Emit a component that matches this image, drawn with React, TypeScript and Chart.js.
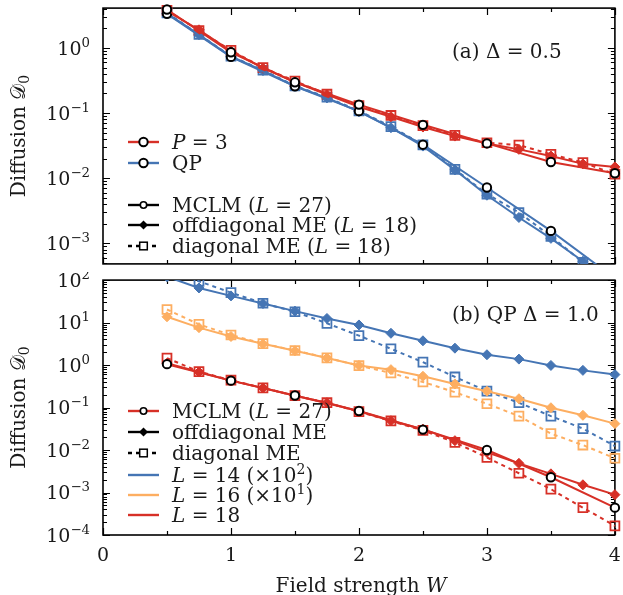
import React, { useEffect, useRef } from "react";
import { Chart, registerables } from "chart.js";
Chart.register(...registerables);

// ---------- data ----------
const W_QUARTER = [0.5, 0.75, 1.0, 1.25, 1.5, 1.75, 2.0, 2.25, 2.5, 2.75, 3.0, 3.25, 3.5, 3.75, 4.0];
const W_HALF = [0.5, 1.0, 1.5, 2.0, 2.5, 3.0, 3.5, 4.0];

// panel (a) Delta = 0.5
const p3MCLM = [3.9, 0.86, 0.297, 0.135, 0.066, 0.0342, 0.0177, 0.0119];
const qpMCLM = [3.35, 0.73, 0.258, 0.107, 0.0327, 0.00718, 0.00155, 0.00029];
const p3Off = [3.7, 1.9, 0.9, 0.49, 0.3, 0.193, 0.125, 0.088, 0.061, 0.0443, 0.034, 0.0277, 0.0219, 0.0166, 0.0149];
const p3Diag = [3.8, 1.85, 0.92, 0.5, 0.31, 0.195, 0.13, 0.092, 0.064, 0.0454, 0.035, 0.0323, 0.0233, 0.0174, 0.0115];
const qpOff = [3.4, 1.6, 0.74, 0.449, 0.258, 0.171, 0.105, 0.0596, 0.0311, 0.0134, 0.00547, 0.00249, 0.00119, 0.00053, 0.00024];
const qpDiag = [3.45, 1.62, 0.75, 0.455, 0.262, 0.175, 0.108, 0.062, 0.0325, 0.0137, 0.0057, 0.00297, 0.00128, 0.00051, 0.00022];

// panel (b) QP Delta = 1.0
const mclm18 = [1.05, 0.43, 0.192, 0.083, 0.0303, 0.01, 0.00229, 0.00044];
const off18 = [1.1, 0.686, 0.43, 0.29, 0.19, 0.13, 0.082, 0.049, 0.031, 0.0166, 0.0088, 0.00486, 0.00275, 0.00152, 0.00089];
const diag18 = [1.46, 0.7, 0.44, 0.29, 0.19, 0.13, 0.08, 0.0484, 0.029, 0.0151, 0.0067, 0.00284, 0.0012, 0.00044, 0.000164];
const off16 = [13.7, 7.6, 4.7, 3.16, 2.17, 1.46, 0.98, 0.78, 0.545, 0.36, 0.243, 0.161, 0.099, 0.0657, 0.0418];
const diag16 = [20.3, 9.1, 5.1, 3.2, 2.2, 1.48, 0.97, 0.65, 0.4, 0.23, 0.123, 0.063, 0.0244, 0.0131, 0.0064];
const off14 = [120, 65.3, 42.5, 28.1, 18.6, 12.5, 8.8, 5.6, 3.72, 2.5, 1.75, 1.38, 0.98, 0.75, 0.597];
const diag14 = [170, 93.8, 50.8, 28.5, 18, 9.6, 4.94, 2.42, 1.17, 0.525, 0.243, 0.13, 0.063, 0.032, 0.0124];

// ticks
const X_TICKS = [0, 1, 2, 3, 4];
const TOP_EXPONENTS = [0, -1, -2, -3];
const BOT_EXPONENTS = [2, 1, 0, -1, -2, -3, -4];

// ---------- style ----------
const RED = "#d73027";
const BLUE = "#4575b4";
const ORANGE = "#fdae61";
const INK = "#1a1a1a";
const FONT = '"DejaVu Serif"';
const FS = 20;
const TICK_FS = 19;

type Seg = { t: string; it?: boolean; sup?: boolean; sub?: boolean };

function segFont(s: Seg, size: number) {
  const sz = s.sup || s.sub ? size * 0.7 : size;
  return `${s.it ? "italic " : ""}${sz}px ${FONT}`;
}
function richWidth(ctx: CanvasRenderingContext2D, segs: Seg[], size: number) {
  let w = 0;
  for (const s of segs) {
    ctx.font = segFont(s, size);
    w += ctx.measureText(s.t).width;
  }
  return w;
}
// y = vertical centre of capital letters
function drawRich(ctx: CanvasRenderingContext2D, segs: Seg[], x: number, y: number, size: number, align: "left" | "right" | "center") {
  const w = richWidth(ctx, segs, size);
  let cx = align === "left" ? x : align === "right" ? x - w : x - w / 2;
  const base = y + size * 0.36;
  ctx.textAlign = "left";
  ctx.textBaseline = "alphabetic";
  ctx.fillStyle = INK;
  for (const s of segs) {
    ctx.font = segFont(s, size);
    let by = base;
    if (s.sup) by = base - size * 0.42;
    if (s.sub) by = base + size * 0.2;
    ctx.fillText(s.t, cx, by);
    cx += ctx.measureText(s.t).width;
  }
}

function pts(xs: number[], ys: number[]) {
  return xs.map((x, i) => ({ x, y: ys[i] }));
}

type Kind = "mclm" | "off" | "diag";
function ds(xs: number[], ys: number[], color: string, kind: Kind, clip: any) {
  const base: any = {
    data: pts(xs, ys),
    borderColor: color,
    borderWidth: 2,
    tension: 0,
    clip,
  };
  if (kind === "mclm") {
    return { ...base, pointStyle: "circle", pointRadius: 4.2, pointBorderColor: "#000", pointBackgroundColor: "#fff", pointBorderWidth: 2 };
  }
  if (kind === "off") {
    return { ...base, pointStyle: "rectRot", pointRadius: 5, pointBorderColor: color, pointBackgroundColor: color, pointBorderWidth: 1 };
  }
  return { ...base, borderDash: [4, 4], pointStyle: "rect", pointRadius: 6.3, pointBorderColor: color, pointBackgroundColor: "rgba(0,0,0,0)", pointBorderWidth: 1.8 };
}

function drawMarker(ctx: CanvasRenderingContext2D, kind: Kind, x: number, y: number, color: string, small: boolean) {
  ctx.save();
  ctx.setLineDash([]);
  if (kind === "mclm") {
    ctx.beginPath();
    ctx.arc(x, y, small ? 3.2 : 4.2, 0, Math.PI * 2);
    ctx.fillStyle = "#fff";
    ctx.fill();
    ctx.lineWidth = small ? 1.6 : 2;
    ctx.strokeStyle = "#000";
    ctx.stroke();
  } else if (kind === "off") {
    const r = small ? 4.5 : 5;
    ctx.beginPath();
    ctx.moveTo(x, y - r);
    ctx.lineTo(x + r, y);
    ctx.lineTo(x, y + r);
    ctx.lineTo(x - r, y);
    ctx.closePath();
    ctx.fillStyle = color;
    ctx.fill();
  } else {
    const h = small ? 3.8 : 4.5;
    ctx.fillStyle = "#fff";
    ctx.fillRect(x - h, y - h, 2 * h, 2 * h);
    ctx.lineWidth = 1.5;
    ctx.strokeStyle = color;
    ctx.strokeRect(x - h, y - h, 2 * h, 2 * h);
  }
  ctx.restore();
}

type LegendRow = { y: number; color: string; line: "solid" | "dash" | "none"; marker: Kind | null; small?: boolean; label: Seg[] };
function drawLegend(ctx: CanvasRenderingContext2D, rows: LegendRow[]) {
  for (const r of rows) {
    ctx.save();
    ctx.strokeStyle = r.color;
    ctx.lineWidth = 2.4;
    if (r.line === "dash") ctx.setLineDash([4, 4]);
    ctx.beginPath();
    ctx.moveTo(128, r.y);
    ctx.lineTo(159, r.y);
    ctx.stroke();
    ctx.restore();
    if (r.marker) drawMarker(ctx, r.marker, 143.5, r.y, r.color, !!r.small);
    drawRich(ctx, r.label, 172, r.y, FS, "left");
  }
}

function framePlugin(id: string) {
  return {
    id,
    beforeDatasetsDraw(chart: any) {
      const { ctx, chartArea: a, scales } = chart;
      const ys = scales.y;
      const xs = scales.x;
      ctx.save();
      ctx.strokeStyle = "#000";
      ctx.lineWidth = 1.2;
      for (let v = 0; v <= 4.0001; v += 0.5) {
        const px = Math.round(xs.getPixelForValue(v)) + 0.5;
        const len = Math.abs(v - Math.round(v)) < 1e-6 ? 7 : 4;
        ctx.beginPath();
        ctx.moveTo(px, a.bottom);
        ctx.lineTo(px, a.bottom - len);
        ctx.moveTo(px, a.top);
        ctx.lineTo(px, a.top + len);
        ctx.stroke();
      }
      const lo = Math.floor(Math.log10(ys.min));
      const hi = Math.ceil(Math.log10(ys.max));
      for (let e = lo; e <= hi; e++) {
        for (let k = 1; k <= 9; k++) {
          const v = k * Math.pow(10, e);
          if (v < ys.min * 0.999 || v > ys.max * 1.001) continue;
          const py = Math.round(ys.getPixelForValue(v)) + 0.5;
          const len = k === 1 ? 7 : 4;
          ctx.beginPath();
          ctx.moveTo(a.left, py);
          ctx.lineTo(a.left + len, py);
          ctx.moveTo(a.right, py);
          ctx.lineTo(a.right - len, py);
          ctx.stroke();
        }
      }
      ctx.lineWidth = 1.6;
      ctx.strokeRect(a.left, a.top, a.right - a.left, a.bottom - a.top);
      ctx.restore();
    },
  };
}

function textPlugin(id: string, draw: (chart: any) => void) {
  return { id, afterDraw: draw };
}

function yTickLabels(chart: any, exps: number[]) {
  const ctx = chart.ctx;
  const ys = chart.scales.y;
  for (const e of exps) {
    const py = ys.getPixelForValue(Math.pow(10, e));
    const exp = e < 0 ? "\u2212" + Math.abs(e) : String(e);
    drawRich(ctx, [{ t: "10" }, { t: exp, sup: true }], 90, py, TICK_FS, "right");
  }
}

function yTitle(chart: any) {
  const ctx = chart.ctx;
  const a = chart.chartArea;
  ctx.save();
  ctx.translate(25, (a.top + a.bottom) / 2);
  ctx.rotate(-Math.PI / 2);
  const segs: Seg[] = [{ t: "Diffusion " }, { t: "\u{1D49F}" }, { t: "0", sub: true }];
  const w = richWidth(ctx, segs, FS);
  let cx = -w / 2;
  ctx.fillStyle = INK;
  ctx.textBaseline = "alphabetic";
  ctx.textAlign = "left";
  for (const s of segs) {
    ctx.font = segFont(s, FS);
    ctx.fillText(s.t, cx, s.sub ? FS * 0.2 : 0);
    cx += ctx.measureText(s.t).width;
  }
  ctx.restore();
}

const TOP_H = 272;
const BOT_H = 323;

function baseOptions(padding: any, ymin: number, ymax: number) {
  return {
    animation: false,
    responsive: false,
    events: [],
    layout: { padding },
    plugins: { legend: { display: false }, tooltip: { enabled: false }, title: { display: false } },
    scales: {
      x: { type: "linear", min: 0, max: 4, display: false },
      y: { type: "logarithmic", min: ymin, max: ymax, display: false },
    },
  } as any;
}

export default function App() {
  const topRef = useRef<HTMLCanvasElement>(null);
  const botRef = useRef<HTMLCanvasElement>(null);

  useEffect(() => {
    const clipTop = { left: 10, right: 10, top: 10, bottom: 0 };
    const clipBot = { left: 10, right: 10, top: 0, bottom: 10 };

    const topChart = new Chart(topRef.current as HTMLCanvasElement, {
      type: "line",
      data: {
        datasets: [
          ds(W_HALF, p3MCLM, RED, "mclm", clipTop),
          ds(W_HALF, qpMCLM, BLUE, "mclm", clipTop),
          ds(W_QUARTER, p3Off, RED, "off", clipTop),
          ds(W_QUARTER, qpOff, BLUE, "off", clipTop),
          ds(W_QUARTER, p3Diag, RED, "diag", clipTop),
          ds(W_QUARTER, qpDiag, BLUE, "diag", clipTop),
        ],
      },
      options: baseOptions({ left: 103, right: 6, top: 8, bottom: TOP_H - 265 }, 4.82e-4, 4.1),
      plugins: [
        framePlugin("frameTop"),
        textPlugin("textTop", (chart: any) => {
          const ctx = chart.ctx;
          yTickLabels(chart, TOP_EXPONENTS);
          yTitle(chart);
          drawRich(ctx, [{ t: "(a) \u0394 = 0.5" }], 452, 51, FS, "left");
          drawLegend(ctx, [
            { y: 142, color: RED, line: "solid", marker: "mclm", label: [{ t: "P", it: true }, { t: " = 3" }] },
            { y: 163, color: BLUE, line: "solid", marker: "mclm", label: [{ t: "QP" }] },
            { y: 205, color: "#000", line: "solid", marker: "mclm", small: true, label: [{ t: "MCLM (" }, { t: "L", it: true }, { t: " = 27)" }] },
            { y: 225, color: "#000", line: "solid", marker: "off", small: true, label: [{ t: "offdiagonal ME (" }, { t: "L", it: true }, { t: " = 18)" }] },
            { y: 246, color: "#000", line: "dash", marker: "diag", small: true, label: [{ t: "diagonal ME (" }, { t: "L", it: true }, { t: " = 18)" }] },
          ]);
        }),
      ],
    } as any);

    const off = TOP_H;
    const botChart = new Chart(botRef.current as HTMLCanvasElement, {
      type: "line",
      data: {
        datasets: [
          ds(W_HALF, mclm18, RED, "mclm", clipBot),
          ds(W_QUARTER, off18, RED, "off", clipBot),
          ds(W_QUARTER, off16, ORANGE, "off", clipBot),
          ds(W_QUARTER, off14, BLUE, "off", clipBot),
          ds(W_QUARTER, diag18, RED, "diag", clipBot),
          ds(W_QUARTER, diag16, ORANGE, "diag", clipBot),
          ds(W_QUARTER, diag14, BLUE, "diag", clipBot),
        ],
      },
      options: baseOptions({ left: 103, right: 6, top: 278 - off, bottom: off + BOT_H - 535 }, 1e-4, 1e2),
      plugins: [
        framePlugin("frameBot"),
        textPlugin("textBot", (chart: any) => {
          const ctx = chart.ctx;
          const xs = chart.scales.x;
          yTickLabels(chart, BOT_EXPONENTS);
          yTitle(chart);
          for (const v of X_TICKS) {
            drawRich(ctx, [{ t: String(v) }], xs.getPixelForValue(v), 554 - off, TICK_FS, "center");
          }
          drawRich(ctx, [{ t: "Field strength " }, { t: "W", it: true }], 361, 585 - off, FS, "center");
          drawRich(ctx, [{ t: "(b) QP \u0394 = 1.0" }], 452, 314 - off, FS, "left");
          const L = (n: string): Seg[] => [{ t: "L", it: true }, { t: " = " + n }];
          drawLegend(ctx, [
            { y: 411 - off, color: RED, line: "solid", marker: "mclm", small: true, label: [{ t: "MCLM (" }, { t: "L", it: true }, { t: " = 27)" }] },
            { y: 432 - off, color: "#000", line: "solid", marker: "off", small: true, label: [{ t: "offdiagonal ME" }] },
            { y: 453 - off, color: "#000", line: "dash", marker: "diag", small: true, label: [{ t: "diagonal ME" }] },
            { y: 475 - off, color: BLUE, line: "solid", marker: null, label: [...L("14 (\u00d710"), { t: "2", sup: true }, { t: ")" }] },
            { y: 495 - off, color: ORANGE, line: "solid", marker: null, label: [...L("16 (\u00d710"), { t: "1", sup: true }, { t: ")" }] },
            { y: 515 - off, color: RED, line: "solid", marker: null, label: L("18") },
          ]);
        }),
      ],
    } as any);

    return () => {
      topChart.destroy();
      botChart.destroy();
    };
  }, []);

  return (
    <div style={{ position: "fixed", left: 0, top: 0, width: 623, height: 595, background: "#fff" }}>
      <canvas ref={topRef} width={623} height={TOP_H} style={{ position: "absolute", left: 0, top: 0, width: 623, height: TOP_H }} />
      <canvas ref={botRef} width={623} height={BOT_H} style={{ position: "absolute", left: 0, top: TOP_H, width: 623, height: BOT_H }} />
    </div>
  );
}
